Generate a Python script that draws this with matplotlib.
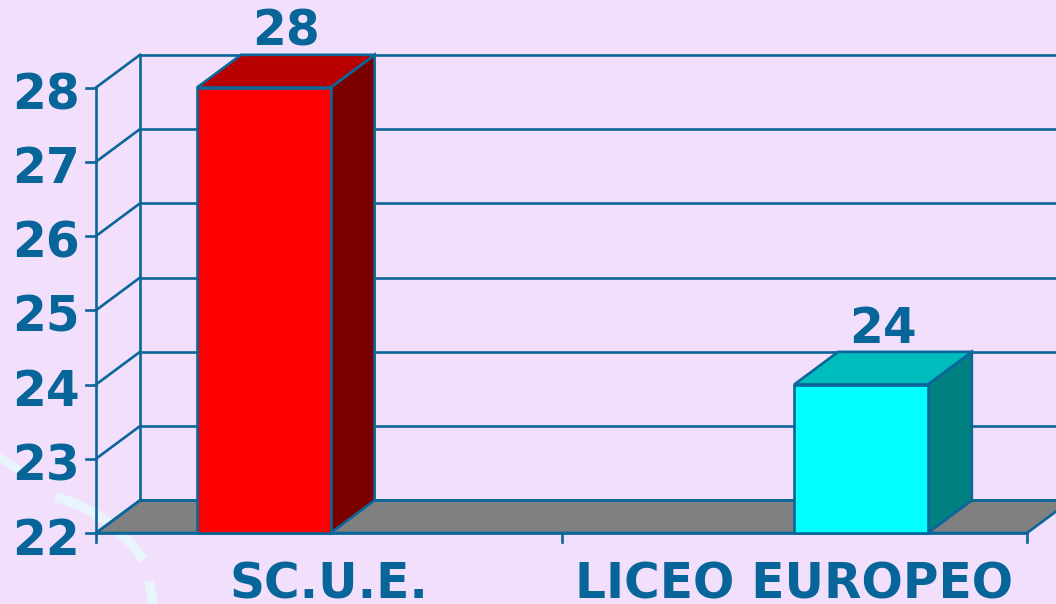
import matplotlib
matplotlib.use("Agg")
import matplotlib.pyplot as plt
from matplotlib.patches import Polygon, Arc

# Data
categories = ["SC.U.E.", "LICEO EUROPEO"]
values = [28, 24]
yticks = [22, 23, 24, 25, 26, 27, 28]

# Colours (front, top, side) per bar
front_colors = ["#FF0000", "#00FFFF"]
top_colors = ["#B80000", "#00BDBD"]
side_colors = ["#7A0000", "#008080"]

bg = "#F2DFFB"
blue = "#0B6699"
txt = "#07659A"

# Layout (category units on x, value units on y)
bar_left = [0.217, 1.50]
bar_w = 0.287
dx, dy = 0.0945, 0.44
ymin = 22

fig = plt.figure(figsize=(10.56, 6.04), dpi=100, facecolor=bg)

# faint background swirl from the slide template
deco = fig.add_axes([0, 0, 1, 1], zorder=0)
deco.set_xlim(0, 1056)
deco.set_ylim(604, 0)
deco.axis("off")
deco.add_patch(Arc((20, 640), 294, 294, theta1=-76, theta2=-33,
                   color="#E8F5FC", lw=7))
deco.plot([150, 153], [586, 604], color="#E8F5FC", lw=7)
deco.plot([0, 16], [458, 468], color="#E8F5FC", lw=6)

ax = fig.add_axes([0, 0, 1, 1], zorder=1)
ax.patch.set_visible(False)
ax.set_xlim(-96 / 465.5, (1056 - 96) / 465.5)
ax.set_ylim(22 - 71 / 74.25, 22 + 533 / 74.25)
ax.axis("off")

lw = 1.9
n = len(categories)

# floor
ax.add_patch(Polygon([(0, ymin), (n, ymin), (n + dx, ymin + dy), (dx, ymin + dy)],
                     closed=True, facecolor="#808080", edgecolor=blue, lw=lw, zorder=1))

# back wall gridlines and diagonals
for v in yticks:
    ax.plot([dx, n + dx], [v + dy, v + dy], color=blue, lw=lw, zorder=2)
    ax.plot([0, dx], [v, v + dy], color=blue, lw=lw, zorder=2)
    ax.plot([-0.022, 0], [v, v], color=blue, lw=lw, zorder=2)
    ax.text(-0.035, v - 0.29, str(v), ha="right", va="baseline",
            fontsize=35, fontweight="bold", color=txt)
ax.plot([dx, dx], [ymin + dy, yticks[-1] + dy], color=blue, lw=lw, zorder=2)
ax.plot([0, 0], [ymin - 0.12, yticks[-1]], color=blue, lw=lw, zorder=2)
ax.plot([0, n], [ymin, ymin], color=blue, lw=lw, zorder=2)
for i in range(1, n + 1):
    ax.plot([i, i], [ymin, ymin - 0.12], color=blue, lw=lw, zorder=2)

# bars
for i, v in enumerate(values):
    x0 = bar_left[i]
    x1 = x0 + bar_w
    ax.add_patch(Polygon([(x1, ymin), (x1 + dx, ymin + dy), (x1 + dx, v + dy), (x1, v)],
                         closed=True, facecolor=side_colors[i], edgecolor=blue, lw=lw, zorder=3))
    ax.add_patch(Polygon([(x0, v), (x1, v), (x1 + dx, v + dy), (x0 + dx, v + dy)],
                         closed=True, facecolor=top_colors[i], edgecolor=blue, lw=lw, zorder=3))
    ax.add_patch(Polygon([(x0, ymin), (x1, ymin), (x1, v), (x0, v)],
                         closed=True, facecolor=front_colors[i], edgecolor=blue, lw=lw, zorder=3))
    ax.text(x0 + bar_w / 2 + dx / 2, v + dy + 0.12, str(v), ha="center", va="baseline",
            fontsize=35, fontweight="bold", color=txt, zorder=4)
    ax.text(i + 0.5, 21.12, categories[i], ha="center", va="baseline",
            fontsize=35, fontweight="bold", color=txt, zorder=4)

fig.savefig("out.png", dpi=100, facecolor=bg)
